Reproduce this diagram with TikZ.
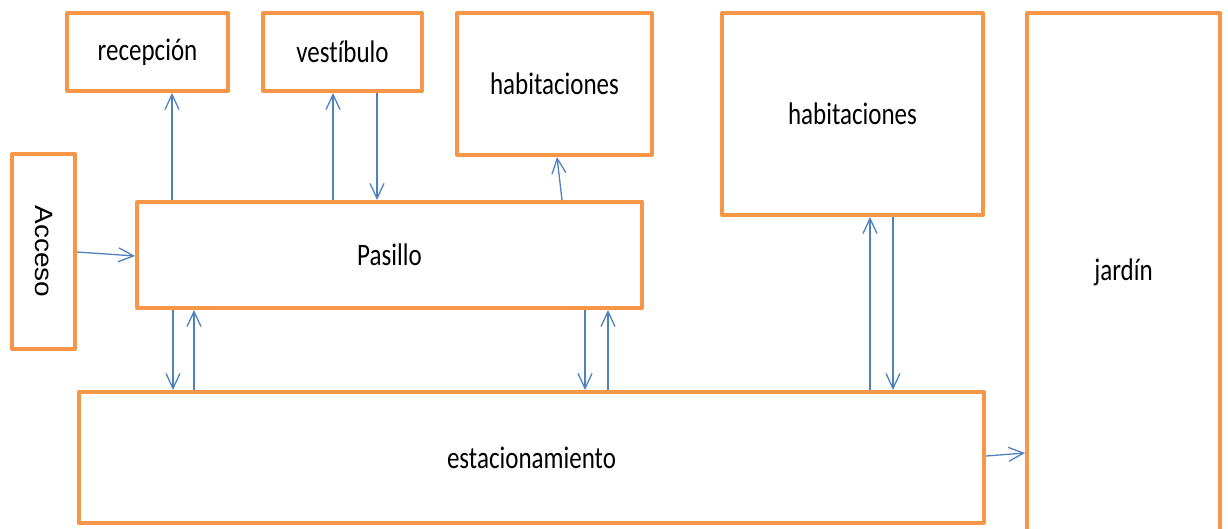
\documentclass[tikz,border=0pt]{standalone}
\usepackage{fontspec}
\setmainfont{Carlito}[Ligatures=NoCommon]
\newfontfamily\accfont{Liberation Sans}
\usetikzlibrary{arrows.meta}
\definecolor{boxor}{HTML}{F79646}
\definecolor{arrblue}{HTML}{4F81BD}
\newcommand{\tx}[1]{\scalebox{1}[1.25]{#1}}
\tikzset{
  box/.style={draw=boxor, line width=4pt, fill=white, rectangle, inner sep=0pt, line join=round,
    font=\fontsize{25}{29}\selectfont, text=black},
  arr/.style={draw=arrblue, line width=1.3pt, -{Straight Barb[length=15pt,width=14pt,line width=1.3pt]}}
}
\begin{document}
\begin{tikzpicture}[x=1pt,y=-1pt]
\useasboundingbox (0,0) rectangle (1228,529);
\node[box, minimum width=161pt, minimum height=78pt] (recep) at (147.5,52) {\tx{recepción}};
\node[box, minimum width=159pt, minimum height=78pt] (vest) at (342.5,52) {\tx{vestíbulo}};
\node[box, minimum width=195pt, minimum height=142pt] (hab1) at (554.5,84) {\tx{habitaciones}};
\node[box, minimum width=261pt, minimum height=202pt] (hab2) at (852.5,114) {\tx{habitaciones}};
\node[box, minimum width=193pt, minimum height=518pt] (jardin) at (1123.5,272) {\tx{jardín}};
\node[box, minimum width=63pt, minimum height=195pt] (acceso) at (43.5,251.5) {};
\node[rotate=-90, font=\accfont\fontsize{25}{29}\selectfont] (accesolbl) at (acceso.center) {\scalebox{1.12}[1]{Acceso}};
\node[box, minimum width=505pt, minimum height=106pt] (pasillo) at (389.5,255) {\tx{Pasillo}};
\node[box, minimum width=905pt, minimum height=131pt] (estac) at (531.5,457.5) {\tx{estacionamiento}};
% reference x positions
\coordinate (c172) at (172,0);
\coordinate (c333) at (333,0);
\coordinate (c377) at (377,0);
\coordinate (c173) at (173,0);
\coordinate (c194) at (194,0);
\coordinate (c585) at (585,0);
\coordinate (c608) at (608,0);
\coordinate (c870) at (870,0);
\coordinate (c893) at (893,0);
\coordinate (p1) at (562,0);
\coordinate (p2) at (557,0);
% connectors
\draw[arr] (acceso.east |- 0,252) -- (pasillo.west |- 0,256);
\draw[arr] (pasillo.north -| c172) -- (recep.south -| c172);
\draw[arr] (pasillo.north -| c333) -- (vest.south -| c333);
\draw[arr] (vest.south -| c377) -- (pasillo.north -| c377);
\draw[arr] (pasillo.north -| p1) -- (hab1.south -| p2);
\draw[arr] (pasillo.south -| c173) -- (estac.north -| c173);
\draw[arr] (estac.north -| c194) -- (pasillo.south -| c194);
\draw[arr] (pasillo.south -| c585) -- (estac.north -| c585);
\draw[arr] (estac.north -| c608) -- (pasillo.south -| c608);
\draw[arr] (estac.north -| c870) -- (hab2.south -| c870);
\draw[arr] (hab2.south -| c893) -- (estac.north -| c893);
\draw[arr] (estac.east |- 0,456) -- (jardin.west |- 0,453);
\end{tikzpicture}
\end{document}
